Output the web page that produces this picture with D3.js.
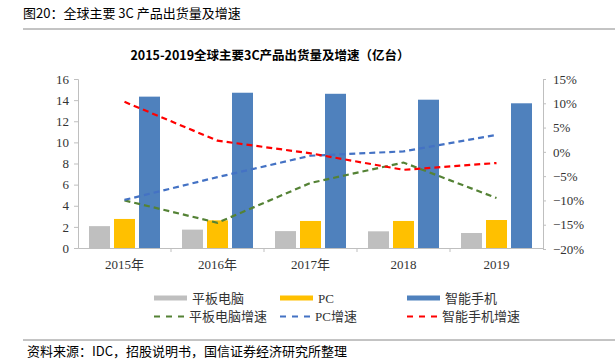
<!DOCTYPE html>
<html>
<head>
<meta charset="utf-8">
<script src="https://cdn.jsdelivr.net/npm/d3@7"></script>
<style>
  body { margin: 0; background: #fff; }
  svg { display: block; }
  .serif { font-family: "Liberation Serif", "Noto Sans CJK SC", serif; }
  .sans { font-family: "Noto Sans CJK SC", "Noto Sans", sans-serif; }
</style>
</head>
<body>
<svg width="615" height="361"></svg>
<script>
const YEARS = ["2015年", "2016年", "2017年", "2018", "2019"];
const SERIES = ["平板电脑", "PC", "智能手机"];
const TABLET = [2.07, 1.74, 1.60, 1.58, 1.42];
const PC = [2.75, 2.62, 2.56, 2.56, 2.65];
const PHONE = [14.33, 14.70, 14.60, 14.04, 13.70];
const TABLET_GROWTH = [-10.0, -14.6, -6.4, -2.2, -9.5];
const PC_GROWTH = [-9.9, -5.2, -0.8, 0.1, 3.5];
const PHONE_GROWTH = [10.3, 2.3, -0.3, -3.7, -2.3];
const LEFT_TICKS = [0, 2, 4, 6, 8, 10, 12, 14, 16];
const RIGHT_TICKS = [-20, -15, -10, -5, 0, 5, 10, 15];

const barColors = ["#bfbfbf", "#ffc000", "#4f81bd"];
const lineColors = ["#548235", "#4472c4", "#ff0000"];

const svg = d3.select("svg");

const x = d3.scaleBand().domain(YEARS).range([78, 543]);
const xInner = d3.scaleBand().domain(SERIES)
    .range([0, x.bandwidth()])
    .paddingInner(0.16)
    .paddingOuter(0.44);
const yLeft = d3.scaleLinear().domain([0, 16]).range([248, 79]);
const yRight = d3.scaleLinear().domain([-20, 15]).range([249, 79]);

// header
svg.append("text").attr("class", "sans")
    .attr("x", 23).attr("y", 18)
    .attr("font-size", 13).attr("fill", "#000")
    .text("图20：全球主要 3C 产品出货量及增速");
svg.append("line").attr("x1", 23).attr("x2", 615).attr("y1", 29).attr("y2", 29)
    .attr("stroke", "#888").attr("stroke-width", 1);

svg.append("text").attr("class", "sans")
    .attr("x", 270).attr("y", 60)
    .attr("text-anchor", "middle")
    .attr("font-size", 12.5).attr("font-weight", "bold")
    .text("2015-2019全球主要3C产品出货量及增速（亿台）");

// axes
const leftAxis = svg.append("g").attr("class", "serif")
    .attr("transform", "translate(78,0)")
    .call(d3.axisLeft(yLeft).tickValues(LEFT_TICKS).tickSize(4).tickPadding(5));
const rightAxis = svg.append("g").attr("class", "serif")
    .attr("transform", "translate(543,0)")
    .call(d3.axisRight(yRight).tickValues(RIGHT_TICKS).tickSize(3).tickPadding(7)
        .tickFormat(d => (d < 0 ? "\u2212" + Math.abs(d) : d) + "%"));
const xAxis = svg.append("g").attr("class", "serif")
    .attr("transform", "translate(0,248)")
    .call(d3.axisBottom(x).tickSize(0).tickPadding(12));

[leftAxis, rightAxis, xAxis].forEach(g => {
  g.selectAll("path.domain").attr("stroke", "#bfbfbf");
  g.selectAll(".tick line").attr("stroke", "#bfbfbf");
  g.selectAll("text").attr("font-size", 13).attr("fill", "#333")
      .attr("font-family", "Liberation Serif, Noto Sans CJK SC, serif");
});
// category separators on the x axis
xAxis.selectAll(".sep")
    .data(YEARS.slice(1))
    .enter().append("line")
    .attr("x1", d => x(d)).attr("x2", d => x(d))
    .attr("y1", 0).attr("y2", 4)
    .attr("stroke", "#bfbfbf");

// bars
const barData = [TABLET, PC, PHONE];
SERIES.forEach((s, i) => {
  svg.append("g").selectAll("rect")
      .data(barData[i])
      .enter().append("rect")
      .attr("x", (d, j) => x(YEARS[j]) + xInner(s))
      .attr("width", xInner.bandwidth())
      .attr("y", d => yLeft(d))
      .attr("height", d => yLeft(0) - yLeft(d))
      .attr("fill", barColors[i]);
});

// growth lines
const growth = [TABLET_GROWTH, PC_GROWTH, PHONE_GROWTH];
const line = d3.line()
    .x((d, j) => x(YEARS[j]) + x.bandwidth() / 2)
    .y(d => yRight(d));
growth.forEach((g, i) => {
  svg.append("path")
      .datum(g)
      .attr("d", line)
      .attr("fill", "none")
      .attr("stroke", lineColors[i])
      .attr("stroke-width", 2.2)
      .attr("stroke-dasharray", "6,4");
});

// legend
const legendX = [154, 280, 407];
const legendNames = [SERIES, ["平板电脑增速", "PC增速", "智能手机增速"]];
legendNames[0].forEach((name, i) => {
  svg.append("rect").attr("x", legendX[i]).attr("y", 295.5)
      .attr("width", 33).attr("height", 5).attr("fill", barColors[i]);
  svg.append("text").attr("class", "serif")
      .attr("x", legendX[i] + 38).attr("y", 302.5)
      .attr("font-size", 13).attr("fill", "#333").text(name);
});
legendNames[1].forEach((name, i) => {
  svg.append("line").attr("x1", legendX[i]).attr("x2", legendX[i] + 34)
      .attr("y1", 316.5).attr("y2", 316.5)
      .attr("stroke", lineColors[i]).attr("stroke-width", 2.2)
      .attr("stroke-dasharray", "6,6");
  svg.append("text").attr("class", "serif")
      .attr("x", legendX[i] + 35).attr("y", 321)
      .attr("font-size", 13).attr("fill", "#333").text(name);
});

// footer
svg.append("line").attr("x1", 23).attr("x2", 615).attr("y1", 340).attr("y2", 340)
    .attr("stroke", "#888").attr("stroke-width", 1);
svg.append("text").attr("class", "sans")
    .attr("x", 27).attr("y", 356)
    .attr("font-size", 13).attr("fill", "#000")
    .text("资料来源：IDC，招股说明书，国信证券经济研究所整理");
</script>
</body>
</html>
